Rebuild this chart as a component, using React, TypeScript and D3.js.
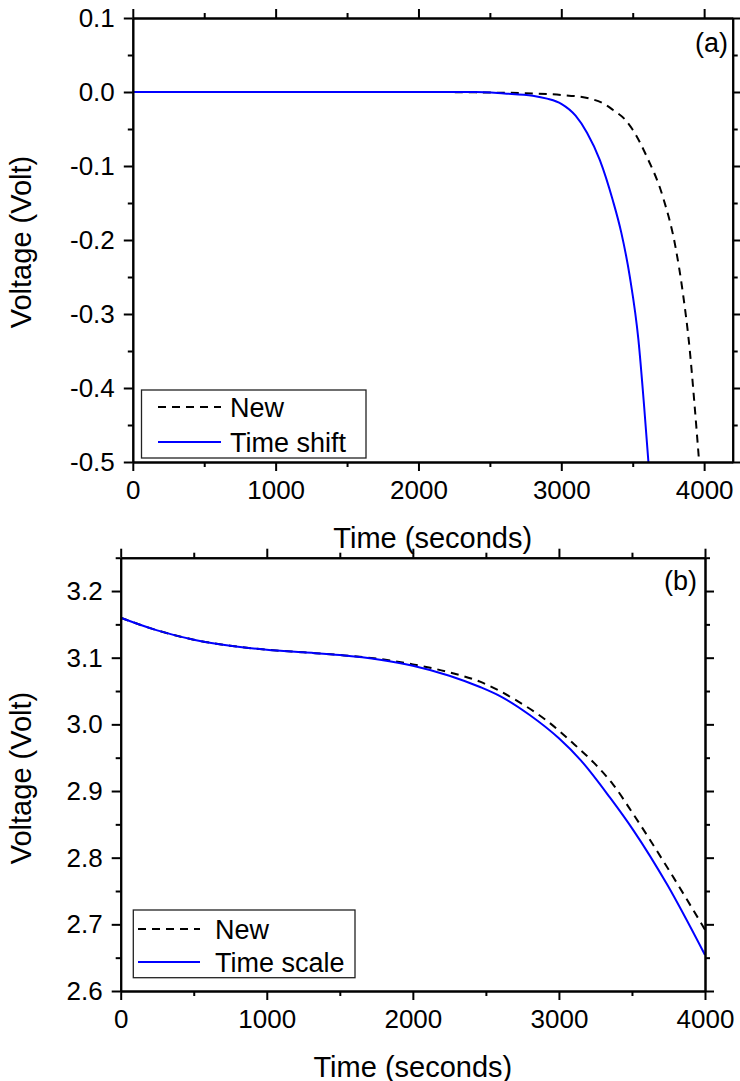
import { useEffect, useRef } from 'react';
import * as d3 from 'd3';

const FONT = '"Liberation Sans", Arial, Helvetica, sans-serif';

// panel (a): time shift
const timeNewA = [0, 1000, 2000, 2400, 2800, 3000, 3200, 3300, 3360, 3450, 3500, 3600, 3710, 3800, 3850, 3900, 3930, 3965];
const voltNewA = [0, 0, 0, -0.0005, -0.002, -0.004, -0.009, -0.016, -0.024, -0.038, -0.051, -0.088, -0.141, -0.21, -0.27, -0.35, -0.416, -0.5];
const timeShiftA = [0, 1000, 2000, 2400, 2600, 2800, 2900, 3000, 3100, 3180, 3270, 3360, 3420, 3480, 3540, 3580, 3610];
const voltShiftA = [0, 0, 0, 0, -0.002, -0.005, -0.009, -0.016, -0.032, -0.055, -0.092, -0.146, -0.19, -0.25, -0.335, -0.425, -0.5];

// panel (b): time scale
const timeNewB = [0, 250, 500, 750, 1000, 1250, 1500, 1775, 2000, 2250, 2460, 2700, 2920, 3100, 3250, 3370, 3510, 3740, 4000];
const voltNewB = [3.16, 3.141, 3.127, 3.118, 3.112, 3.108, 3.104, 3.098, 3.09, 3.078, 3.064, 3.037, 3.005, 2.971, 2.94, 2.91, 2.865, 2.786, 2.692];
const timeScaleB = [0, 250, 500, 750, 1000, 1250, 1500, 1775, 2000, 2250, 2460, 2600, 2800, 3000, 3150, 3350, 3510, 3740, 4000];
const voltScaleB = [3.16, 3.141, 3.127, 3.118, 3.112, 3.108, 3.104, 3.097, 3.088, 3.073, 3.056, 3.042, 3.014, 2.979, 2.946, 2.89, 2.841, 2.76, 2.654];

const xTicks = [0, 1000, 2000, 3000, 4000];
const yTicksA = [0.1, 0.0, -0.1, -0.2, -0.3, -0.4, -0.5];
const yTicksB = [3.2, 3.1, 3.0, 2.9, 2.8, 2.7, 2.6];

const panels = [
  {
    tag: '(a)',
    x: { domain: [0, 4200], range: [132.8, 732.7] },
    y: { domain: [-0.5, 0.1], range: [462, 18] },
    yTicks: yTicksA,
    yMinorStep: 0.05,
    series: [
      { name: 'New', t: timeNewA, v: voltNewA, color: '#000000', dash: '8,6' },
      { name: 'Time shift', t: timeShiftA, v: voltShiftA, color: '#0000ff', dash: null },
    ],
    legend: { x: 141.5, y: 390, w: 224.5, h: 68, lineX0: 158, lineX1: 221, textX: 230, rows: [407, 442] },
    tagPos: [728, 52],
    yLabelY: 242,
  },
  {
    tag: '(b)',
    x: { domain: [0, 4000], range: [120.7, 705] },
    y: { domain: [2.6, 3.25], range: [991, 557.7] },
    yTicks: yTicksB,
    yMinorStep: 0.05,
    series: [
      { name: 'New', t: timeNewB, v: voltNewB, color: '#000000', dash: '8,6' },
      { name: 'Time scale', t: timeScaleB, v: voltScaleB, color: '#0000ff', dash: null },
    ],
    legend: { x: 133.3, y: 910, w: 221.7, h: 67.7, lineX0: 138, lineX1: 200, textX: 215, rows: [929, 962] },
    tagPos: [697, 590],
    yLabelY: 778,
  },
];

export default function App() {
  const svgRef = useRef<SVGSVGElement | null>(null);

  useEffect(() => {
    if (!svgRef.current) return;
    const svg = d3.select(svgRef.current);
    svg.selectAll('*').remove();

    panels.forEach((p, pi) => {
      const x = d3.scaleLinear().domain(p.x.domain).range(p.x.range);
      const y = d3.scaleLinear().domain(p.y.domain).range(p.y.range);
      const [x0, x1] = p.x.range;
      const [yB, yT] = p.y.range;
      const g = svg.append('g');

      // clip
      const clipId = `clip-${pi}`;
      svg.append('defs').append('clipPath').attr('id', clipId)
        .append('rect').attr('x', x0).attr('y', yT).attr('width', x1 - x0).attr('height', yB - yT);

      // curves
      const line = d3.line<[number, number]>()
        .x(d => x(d[0]))
        .y(d => y(d[1]))
        .curve(d3.curveMonotoneX);
      p.series.forEach(s => {
        const pts: [number, number][] = s.t.map((t, i) => [t, s.v[i]]);
        g.append('path')
          .attr('d', line(pts))
          .attr('clip-path', `url(#${clipId})`)
          .attr('fill', 'none')
          .attr('stroke', s.color)
          .attr('stroke-width', 2)
          .attr('stroke-dasharray', s.dash);
      });

      // minor tick values
      const xMinor = d3.range(p.x.domain[0], p.x.domain[1] + 1, 500).filter(v => v % 1000 !== 0);
      const yMinor = d3.range(0, Math.round((p.y.domain[1] - p.y.domain[0]) / p.yMinorStep) + 1)
        .map(i => +(p.y.domain[0] + i * p.yMinorStep).toFixed(3))
        .filter(v => !p.yTicks.some(t => Math.abs(t - v) < 1e-6));

      const addAxis = (axis: any, tx: number, ty: number) => {
        const a = g.append('g').attr('transform', `translate(${tx},${ty})`).call(axis);
        a.select('.domain').attr('stroke-width', 2);
        a.selectAll('line').attr('stroke-width', 2);
        a.selectAll('text').attr('font-family', FONT).attr('font-size', 26).attr('fill', '#000');
        return a;
      };

      // bottom
      addAxis(d3.axisBottom(x).tickValues(xTicks).tickSize(9).tickSizeOuter(0).tickPadding(9.5).tickFormat(d => `${d}`), 0, yB);
      addAxis(d3.axisBottom(x).tickValues(xMinor).tickSize(5).tickSizeOuter(0).tickFormat(() => ''), 0, yB);
      // top
      addAxis(d3.axisTop(x).tickValues(xTicks).tickSize(9).tickSizeOuter(0).tickFormat(() => ''), 0, yT);
      addAxis(d3.axisTop(x).tickValues(xMinor).tickSize(5).tickSizeOuter(0).tickFormat(() => ''), 0, yT);
      // left
      addAxis(d3.axisLeft(y).tickValues(p.yTicks).tickSize(9).tickSizeOuter(0).tickPadding(9).tickFormat(d => (+d).toFixed(1)), x0, 0);
      addAxis(d3.axisLeft(y).tickValues(yMinor).tickSize(5).tickSizeOuter(0).tickFormat(() => ''), x0, 0);
      // right
      addAxis(d3.axisRight(y).tickValues(p.yTicks).tickSize(9).tickSizeOuter(0).tickFormat(() => ''), x1, 0);
      addAxis(d3.axisRight(y).tickValues(yMinor).tickSize(5).tickSizeOuter(0).tickFormat(() => ''), x1, 0);

      // axis titles
      g.append('text')
        .attr('x', (x0 + x1) / 2)
        .attr('y', yB + 85.5)
        .attr('text-anchor', 'middle')
        .attr('font-family', FONT)
        .attr('font-size', 29)
        .text('Time (seconds)');
      g.append('text')
        .attr('transform', `translate(31,${p.yLabelY}) rotate(-90)`)
        .attr('text-anchor', 'middle')
        .attr('font-family', FONT)
        .attr('font-size', 29)
        .text('Voltage (Volt)');

      // panel tag
      g.append('text')
        .attr('x', p.tagPos[0])
        .attr('y', p.tagPos[1])
        .attr('text-anchor', 'end')
        .attr('font-family', FONT)
        .attr('font-size', 27)
        .text(p.tag);

      // legend
      const L = p.legend;
      g.append('rect')
        .attr('x', L.x).attr('y', L.y).attr('width', L.w).attr('height', L.h)
        .attr('fill', '#fff').attr('stroke', '#222').attr('stroke-width', 1.3);
      p.series.forEach((s, i) => {
        g.append('line')
          .attr('x1', L.lineX0).attr('x2', L.lineX1)
          .attr('y1', L.rows[i]).attr('y2', L.rows[i])
          .attr('stroke', s.color).attr('stroke-width', 2)
          .attr('stroke-dasharray', s.dash);
        g.append('text')
          .attr('x', L.textX)
          .attr('y', L.rows[i] + 10)
          .attr('font-family', FONT)
          .attr('font-size', 27)
          .text(s.name);
      });
    });
  }, []);

  return (
    <div style={{ position: 'absolute', left: 0, top: 0, width: 740, height: 1081, background: '#fff' }}>
      <svg ref={svgRef} width={740} height={1081} style={{ display: 'block' }} />
    </div>
  );
}
